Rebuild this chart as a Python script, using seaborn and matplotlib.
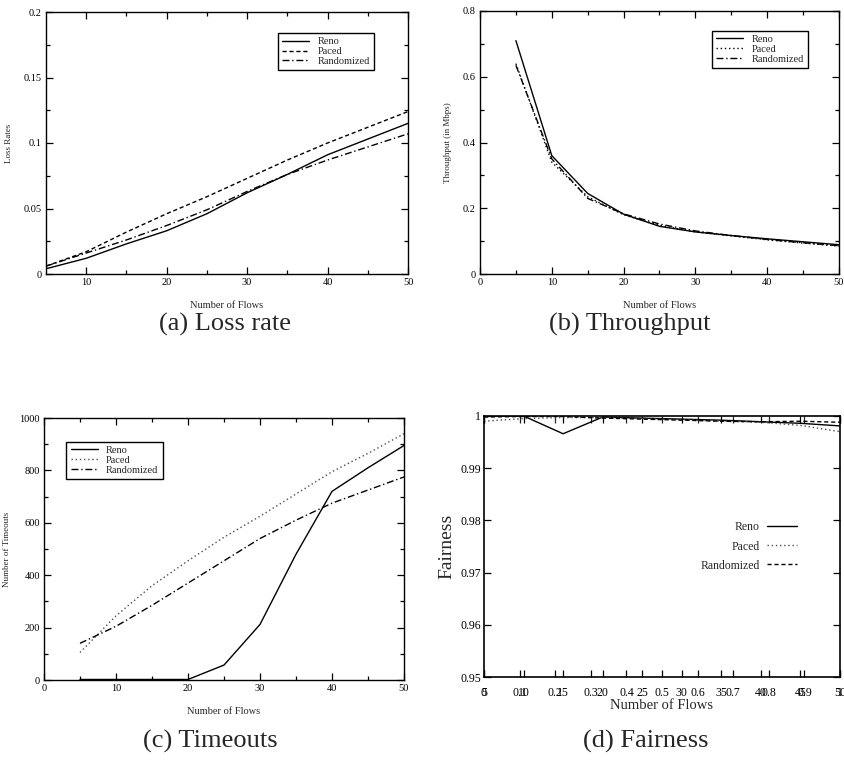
import matplotlib
matplotlib.use("Agg")
import matplotlib.pyplot as plt
import seaborn as sns
import numpy as np

# data
flows = [5, 10, 15, 20, 25, 30, 35, 40, 45, 50]

loss_reno = [0.004, 0.012, 0.023, 0.033, 0.046, 0.062, 0.076, 0.091, 0.103, 0.115]
loss_paced = [0.006, 0.017, 0.032, 0.046, 0.059, 0.073, 0.087, 0.100, 0.112, 0.124]
loss_rand = [0.006, 0.016, 0.026, 0.037, 0.049, 0.063, 0.076, 0.087, 0.097, 0.107]

thr_reno = [0.71, 0.36, 0.245, 0.182, 0.145, 0.128, 0.117, 0.107, 0.098, 0.089]
thr_paced = [0.64, 0.34, 0.235, 0.180, 0.148, 0.128, 0.116, 0.104, 0.094, 0.085]
thr_rand = [0.635, 0.35, 0.230, 0.183, 0.152, 0.131, 0.117, 0.105, 0.095, 0.086]

to_reno = [2, 2, 2, 2, 57, 212, 480, 720, 810, 895]
to_paced = [105, 245, 360, 455, 545, 625, 710, 795, 865, 940]
to_rand = [140, 205, 285, 370, 455, 540, 610, 675, 725, 775]

fair_reno = [1.0, 1.0, 0.9966, 0.9998, 0.9996, 0.9994, 0.9992, 0.9989, 0.9986, 0.9981]
fair_paced = [0.9990, 0.9995, 0.9997, 0.9997, 0.9995, 0.9993, 0.9990, 0.9988, 0.9982, 0.9970]
fair_rand = [0.9998, 0.9999, 0.9999, 0.9996, 0.9994, 0.9992, 0.9990, 0.9989, 0.9990, 0.9988]

fair_fraction_ticks = [0, 0.1, 0.2, 0.3, 0.4, 0.5, 0.6, 0.7, 0.8, 0.9, 1]
fair_fraction_labels = ["0", "0.1", "0.2", "0.3", "0.4", "0.5", "0.6", "0.7", "0.8", "0.9", "1"]

sns.set_theme(style="ticks")
plt.rcParams['font.family'] = ['Liberation Serif', 'DejaVu Serif']
plt.rcParams['axes.linewidth'] = 1.0
plt.rcParams['lines.linewidth'] = 1.0

W, H = 845, 760
fig = plt.figure(figsize=(W / 100, H / 100), dpi=100)


def px_axes(left, top, right, bottom):
    return fig.add_axes([left / W, 1 - bottom / H, (right - left) / W, (bottom - top) / H])


def style_ticks(ax, size=7.5):
    ax.tick_params(which='both', direction='in', top=True, right=True,
                   labelsize=size, colors='black', pad=3)
    ax.tick_params(which='major', length=5, width=0.9)
    ax.tick_params(which='minor', length=3, width=0.9)
    for s in ax.spines.values():
        s.set_color('black')
        s.set_linewidth(1.0)


def boxed_legend(ax, loc, anchor):
    leg = ax.legend(loc=loc, bbox_to_anchor=anchor, fontsize=7.5, fancybox=False,
                    edgecolor='black', framealpha=1, handlelength=2.6,
                    labelspacing=0.05, borderpad=0.4, handletextpad=0.8)
    leg.get_frame().set_linewidth(1.0)


# (a) loss rate
ax = px_axes(46, 12, 408, 274)
sns.lineplot(x=flows, y=loss_reno, ax=ax, color='black', linestyle='-', label='Reno')
sns.lineplot(x=flows, y=loss_paced, ax=ax, color='black', linestyle=(0, (3, 2)), label='Paced')
sns.lineplot(x=flows, y=loss_rand, ax=ax, color='black', linestyle=(0, (5, 2, 1, 2)), label='Randomized')
ax.set_xlim(5, 50)
ax.set_ylim(0, 0.2)
ax.set_xticks([10, 20, 30, 40, 50])
ax.set_xticks([15, 25, 35, 45], minor=True)
ax.set_yticks([0, 0.05, 0.1, 0.15, 0.2])
ax.set_yticklabels(['0', '0.05', '0.1', '0.15', '0.2'])
ax.set_yticks([0.025, 0.075, 0.125, 0.175], minor=True)
ax.set_xlabel('Number of Flows', fontsize=7.5, labelpad=10)
ax.set_ylabel('Loss Rates', fontsize=6.5, labelpad=8)
style_ticks(ax)
boxed_legend(ax, 'upper right', (0.92, 0.94))

# (b) throughput
ax = px_axes(480, 11, 839, 274)
sns.lineplot(x=flows, y=thr_reno, ax=ax, color='black', linestyle='-', label='Reno')
sns.lineplot(x=flows, y=thr_paced, ax=ax, color='black', linestyle=(0, (1, 2)), label='Paced')
sns.lineplot(x=flows, y=thr_rand, ax=ax, color='black', linestyle=(0, (5, 2, 1, 2)), label='Randomized')
ax.set_xlim(0, 50)
ax.set_ylim(0, 0.8)
ax.set_xticks([0, 10, 20, 30, 40, 50])
ax.set_xticks([5, 15, 25, 35, 45], minor=True)
ax.set_yticks([0, 0.2, 0.4, 0.6, 0.8])
ax.set_yticklabels(['0', '0.2', '0.4', '0.6', '0.8'])
ax.set_yticks([0.1, 0.3, 0.5, 0.7], minor=True)
ax.set_xlabel('Number of Flows', fontsize=7.5, labelpad=10)
ax.set_ylabel('Throughput (in Mbps)', fontsize=6.5, labelpad=8)
style_ticks(ax)
boxed_legend(ax, 'upper right', (0.928, 0.945))

# (c) timeouts
ax = px_axes(44, 418, 404, 680)
sns.lineplot(x=flows, y=to_reno, ax=ax, color='black', linestyle='-', label='Reno')
sns.lineplot(x=flows, y=to_paced, ax=ax, color='0.3', linestyle=(0, (1, 2)), label='Paced')
sns.lineplot(x=flows, y=to_rand, ax=ax, color='black', linestyle=(0, (5, 2, 1, 2)), label='Randomized')
ax.set_xlim(0, 50)
ax.set_ylim(0, 1000)
ax.set_xticks([0, 10, 20, 30, 40, 50])
ax.set_xticks([5, 15, 25, 35, 45], minor=True)
ax.set_yticks([0, 200, 400, 600, 800, 1000])
ax.set_yticks([100, 300, 500, 700, 900], minor=True)
ax.set_xlabel('Number of Flows', fontsize=7.5, labelpad=10)
ax.set_ylabel('Number of Timeouts', fontsize=6.5, labelpad=6)
style_ticks(ax)
boxed_legend(ax, 'upper left', (0.048, 0.93))

# (d) fairness, gnuplot style with a second tick set drawn over the first
ax = px_axes(484, 416, 840, 677)
sns.lineplot(x=flows, y=fair_reno, ax=ax, color='black', linestyle='-', label='Reno')
sns.lineplot(x=flows, y=fair_paced, ax=ax, color='0.3', linestyle=(0, (1, 2)), label='Paced')
sns.lineplot(x=flows, y=fair_rand, ax=ax, color='black', linestyle=(0, (3, 2)), label='Randomized')
ax.set_xlim(5, 50)
ax.set_ylim(0.95, 1.0)
ax.set_xticks(flows)
ax.set_yticks([0.95, 0.96, 0.97, 0.98, 0.99, 1.0])
ax.set_yticklabels(['0.95', '0.96', '0.97', '0.98', '0.99', '1'])
ax.tick_params(direction='in', top=True, right=True, labelsize=8.5, length=5,
               width=0.9, colors='black', pad=7)
ax.tick_params(axis='y', pad=2)
for s in ax.spines.values():
    s.set_color('black')
    s.set_linewidth(1.2)
to_frac = (lambda x: (np.asarray(x) - 5) / 45, lambda f: 5 + 45 * np.asarray(f))
sec = ax.secondary_xaxis('bottom', functions=to_frac)
sec.set_xticks(fair_fraction_ticks)
sec.set_xticklabels(fair_fraction_labels)
sec.tick_params(direction='in', length=5, width=0.9, labelsize=8.5, pad=7, colors='black')
sec.spines['bottom'].set_visible(False)
sec_top = ax.secondary_xaxis('top', functions=to_frac)
sec_top.set_xticks(fair_fraction_ticks)
sec_top.tick_params(direction='in', length=5, width=0.9, labeltop=False)
sec_top.spines['top'].set_visible(False)
ax.set_xlabel('Number of Flows', fontsize=10.5, labelpad=0)
ax.set_ylabel('Fairness', fontsize=14, labelpad=4)
leg = ax.legend(loc='center right', bbox_to_anchor=(0.91, 0.5), fontsize=8.5,
                frameon=False, markerfirst=False, handlelength=2.6,
                labelspacing=0.6, handletextpad=0.6)
for t in leg.get_texts():
    t.set_ha('right')

# captions
caption_kw = dict(fontsize=19, ha='center', va='center')
fig.text(225 / W, 1 - 324 / H, '(a) Loss rate', **caption_kw)
fig.text(630 / W, 1 - 324 / H, '(b) Throughput', **caption_kw)
fig.text(210 / W, 1 - 741 / H, '(c) Timeouts', **caption_kw)
fig.text(646 / W, 1 - 741 / H, '(d) Fairness', **caption_kw)

fig.savefig('out.png', dpi=100)
